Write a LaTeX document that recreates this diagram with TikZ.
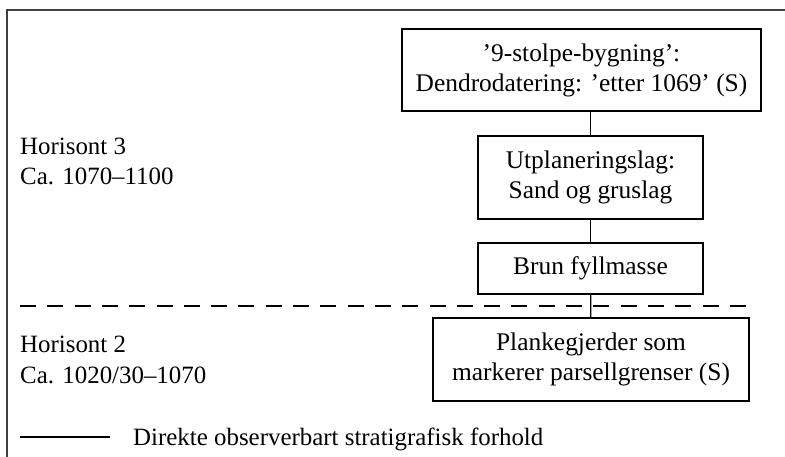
\documentclass[tikz,border=0pt]{standalone}
\usepackage{fontspec}
\setmainfont{Liberation Serif}
\begin{document}
\begin{tikzpicture}[x=1bp,y=-1bp,
  layer/.style={draw,line width=1.2bp,align=center,inner sep=0pt,
    font=\fontsize{25.5}{30}\selectfont},
  lbl/.style={align=left,anchor=base west,inner sep=0pt,
    font=\fontsize{25}{31}\selectfont},
  link/.style={line width=1.2bp}]
\useasboundingbox (0,0) rectangle (785,457);
% frame
\draw[line width=1.2bp,black!75] (7,457) -- (7,10) -- (785,10);
% layers
\node[layer,minimum width=359bp,minimum height=82bp] (b9) at (581.5,70)
  {'9-stolpe-bygning':\\Dendrodatering: 'etter 1069' (S)};
\node[layer,minimum width=225bp,minimum height=83bp] (utp) at (590.5,177.5)
  {Utplaneringslag:\\Sand og gruslag};
\node[layer,minimum width=225bp,minimum height=51bp] (brun) at (590.5,268.5)
  {Brun fyllmasse};
\node[layer,minimum width=316bp,minimum height=83bp] (plank) at (591,359.5)
  {Plankegjerder som\\markerer parsellgrenser (S)};
% horizons
\draw[line width=1.2bp,dash pattern=on 16bp off 11.3bp] (20,306) -- (748,306);
\node[lbl] (h3) at (20,185) {Horisont 3\\Ca. 1070--1100};
\node[lbl] (h2) at (20,383.5) {Horisont 2\\Ca. 1020/30--1070};
% connectors
\draw[link] (b9.south -| utp.north) -- (utp.north);
\draw[link] (utp) -- (brun);
\draw[link] (brun) -- (plank);
% legend
\coordinate (lg1) at (20,437);
\coordinate (lg2) at (110,437);
\draw[link] (lg1) -- (lg2);
\node[lbl] (lgtxt) at (133,445) {Direkte observerbart stratigrafisk forhold};
\end{tikzpicture}
\end{document}
